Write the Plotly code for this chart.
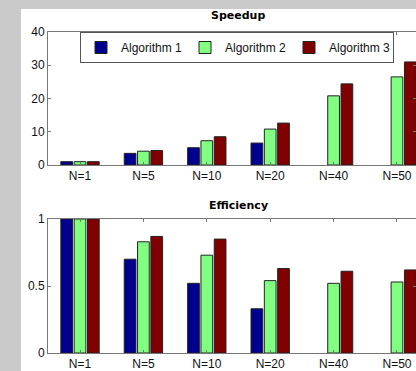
import plotly.graph_objects as go

categories = ["N=1", "N=5", "N=10", "N=20", "N=40", "N=50"]
series_names = ["Algorithm 1", "Algorithm 2", "Algorithm 3"]
speedup_alg1 = [1.0, 3.5, 5.2, 6.6, None, None]
speedup_alg2 = [1.0, 4.15, 7.3, 10.8, 20.8, 26.5]
speedup_alg3 = [1.0, 4.35, 8.5, 12.6, 24.4, 31.0]
eff_alg1 = [1.0, 0.70, 0.52, 0.33, None, None]
eff_alg2 = [1.0, 0.83, 0.73, 0.54, 0.52, 0.53]
eff_alg3 = [1.0, 0.87, 0.85, 0.63, 0.61, 0.62]
speed_ticks = [0, 10, 20, 30, 40]
eff_ticks = [0, 0.5, 1]
eff_tick_text = ["0", "0.5", "1"]

colors = ["#00008F", "#80FF80", "#800000"]

W, H = 416, 371
fig = go.Figure()

for name, vals, col in zip(series_names, [speedup_alg1, speedup_alg2, speedup_alg3], colors):
    fig.add_trace(go.Bar(x=categories, y=vals, name=name, marker=dict(color=col, line=dict(color="#222222", width=1)),
                         xaxis="x", yaxis="y", showlegend=True))
for name, vals, col in zip(series_names, [eff_alg1, eff_alg2, eff_alg3], colors):
    fig.add_trace(go.Bar(x=categories, y=vals, name=name, marker=dict(color=col, line=dict(color="#222222", width=1)),
                         xaxis="x2", yaxis="y2", showlegend=False))

tickfont = dict(family="Liberation Sans, Arial", size=12, color="#111111")
axis_common = dict(showline=True, linecolor="#777777", linewidth=1, mirror="ticks", ticks="inside",
                   ticklen=3, tickcolor="#777777", showgrid=False, zeroline=False, tickfont=tickfont,
                   automargin=False)

xdom = [48 / W, 1.0]
xrange_ = [-0.505, 5.30]

fig.update_layout(
    width=W, height=H, autosize=False,
    margin=dict(l=0, r=0, t=0, b=0, pad=0, autoexpand=False),
    paper_bgcolor="#cacaca",
    plot_bgcolor="white",
    barmode="group",
    bargap=0.37,
    bargroupgap=0.12,
    xaxis=dict(domain=xdom, anchor="y", range=xrange_, type="category", **axis_common),
    yaxis=dict(domain=[1 - 165 / H, 1 - 32 / H], anchor="x", range=[0, 40], tickvals=speed_ticks, **axis_common),
    xaxis2=dict(domain=xdom, anchor="y2", range=xrange_, type="category", **axis_common),
    yaxis2=dict(domain=[1 - 353 / H, 1 - 219 / H], anchor="x2", range=[0, 1], tickvals=eff_ticks,
                ticktext=eff_tick_text, **axis_common),
    legend=dict(orientation="h", x=80 / W, y=1 - 32 / H, xanchor="left", yanchor="top",
                bgcolor="white", bordercolor="#555555", borderwidth=1,
                font=dict(family="Liberation Sans, Arial", size=12, color="#111111"),
                itemwidth=30, tracegroupgap=0, entrywidth=59, entrywidthmode="pixels"),
    shapes=[dict(type="rect", xref="paper", yref="paper", x0=21 / W, x1=1.0, y0=0, y1=1 - 9 / H,
                 fillcolor="white", line=dict(width=0), layer="below")],
    annotations=[
        dict(text="<b>Speedup</b>", x=238 / W, y=1 - 16 / H, xref="paper", yref="paper", showarrow=False,
             xanchor="center", yanchor="middle",
             font=dict(family="DejaVu Sans", size=11, color="#000000")),
        dict(text="<b>Efficiency</b>", x=238 / W, y=1 - 205 / H, xref="paper", yref="paper", showarrow=False,
             xanchor="center", yanchor="middle",
             font=dict(family="DejaVu Sans", size=11, color="#000000")),
    ],
)

fig.write_html("out.html", config={"responsive": False, "displayModeBar": False},
               post_script="document.body.style.margin='0';document.body.style.overflow='hidden';")
